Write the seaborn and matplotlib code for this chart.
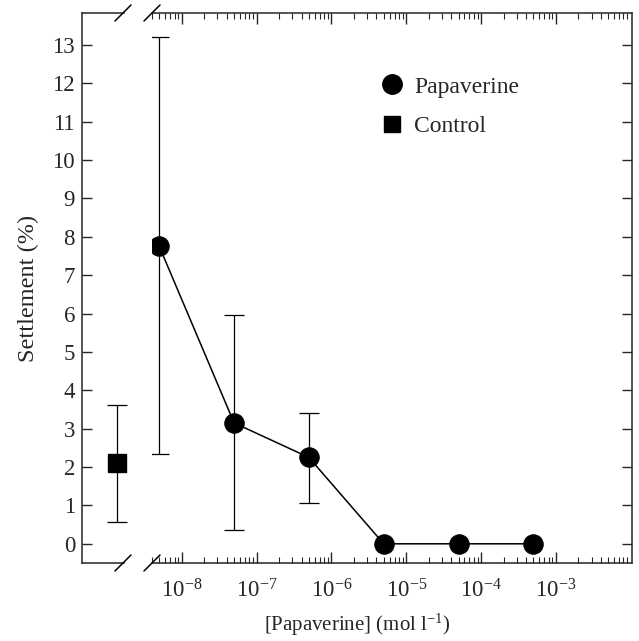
import numpy as np
import pandas as pd
import matplotlib.pyplot as plt
import seaborn as sns
from matplotlib.lines import Line2D
from matplotlib.ticker import LogLocator, LogFormatterMathtext, NullFormatter

# data
conc = [5e-9, 5e-8, 5e-7, 5e-6, 5e-5, 5e-4]
settle = [7.75, 3.15, 2.25, 0.0, 0.0, 0.0]
err_low = [2.35, 0.35, 1.07, 0.0, 0.0, 0.0]
err_high = [13.2, 5.95, 3.42, 0.0, 0.0, 0.0]
ctrl_mean = [2.1]
ctrl_low = [0.58]
ctrl_high = [3.62]
yticks = list(range(0, 14))

sns.set_style('ticks')
plt.rcParams['font.family'] = ['Liberation Serif', 'DejaVu Serif']
plt.rcParams['mathtext.fontset'] = 'custom'
plt.rcParams['mathtext.rm'] = 'Liberation Serif'
plt.rcParams['mathtext.it'] = 'Liberation Serif:italic'
plt.rcParams['mathtext.default'] = 'regular'
FS = 16.5

df = pd.DataFrame({'conc': conc, 'settle': settle})
ctrl = pd.DataFrame({'x': [0.0], 'settle': ctrl_mean})

fig = plt.figure(figsize=(6.39, 6.41), dpi=100)
W, H = 639, 641
bot = 1 - 563 / H
hgt = (563 - 13) / H
ax0 = fig.add_axes([82 / W, bot, 42 / W, hgt])
ax1 = fig.add_axes([152 / W, bot, 480 / W, hgt], sharey=ax0)

ylim = (-0.5, 13.83)

# control (left part of broken axis)
lo = np.array(ctrl_mean) - np.array(ctrl_low)
hi = np.array(ctrl_high) - np.array(ctrl_mean)
ax0.errorbar(ctrl['x'], ctrl['settle'], yerr=[lo, hi], fmt='none', ecolor='black',
             elinewidth=0.9, capsize=7, capthick=0.9, clip_on=False, zorder=2)
sns.scatterplot(data=ctrl, x='x', y='settle', marker='s', s=150, color='black',
                edgecolor='black', ax=ax0, zorder=3, clip_on=False)
ax0.set_xlim(-0.83, 0.17)
ax0.set_ylim(*ylim)
ax0.set_xticks([])
ax0.set_yticks(yticks)
ax0.set_xlabel('')
ax0.set_ylabel('Settlement (%)', fontsize=FS + 1, labelpad=10)
ax0.spines['right'].set_visible(False)
ax0.tick_params(axis='y', direction='in', length=7, width=1, labelsize=FS, pad=5)

# papaverine (log part)
lo = np.array(settle) - np.array(err_low)
hi = np.array(err_high) - np.array(settle)
mask = np.array(err_high) > 0
ax1.errorbar(np.array(conc)[mask], np.array(settle)[mask],
             yerr=[lo[mask], hi[mask]], fmt='none', ecolor='black',
             elinewidth=0.9, capsize=7, capthick=0.9, zorder=2)
sns.lineplot(data=df, x='conc', y='settle', color='black', linewidth=1.1,
             marker='o', markersize=14, markeredgecolor='black', ax=ax1, zorder=3)
ax1.set_xscale('log')
ax1.set_xlim(4e-9, 1.04e-2)
ax1.set_ylim(*ylim)
ax1.set_xlabel('')
ax1.set_ylabel('')
ax1.spines['left'].set_visible(False)
ax1.xaxis.set_minor_locator(LogLocator(base=10, subs=np.arange(2, 10), numticks=20))
ax1.xaxis.set_major_formatter(LogFormatterMathtext())
ax1.xaxis.set_minor_formatter(NullFormatter())
ax1.set_xticks([1e-8, 1e-7, 1e-6, 1e-5, 1e-4, 1e-3])
ax1.tick_params(axis='x', which='major', direction='in', length=8, width=1,
                top=True, labelsize=FS, pad=12)
ax1.tick_params(axis='x', which='minor', direction='in', length=4, width=0.8, top=True)
ax1.tick_params(axis='y', direction='in', length=7, width=1, left=False,
                labelleft=False, right=True)

for ax in (ax0, ax1):
    for s in ax.spines.values():
        s.set_linewidth(1.1)

# break marks
d = 8
for x_px in (123, 152):
    for y_px in (563, 13):
        fig.add_artist(Line2D([(x_px - d) / W, (x_px + d) / W],
                              [1 - (y_px + d) / H, 1 - (y_px - d) / H],
                              color='black', linewidth=1.1))

handles = [Line2D([], [], marker='o', color='black', linestyle='none', markersize=14),
           Line2D([], [], marker='s', color='black', linestyle='none', markersize=11)]
fig.legend(handles, ['Papaverine', 'Control'], loc='upper left',
           bbox_to_anchor=(380 / W, 1 - 76 / H), frameon=False, fontsize=FS + 0.5,
           handlelength=1.0, handletextpad=0.45, labelspacing=0.75,
           borderpad=0, borderaxespad=0)

fig.text(357 / W, 1 - 625 / H, '[Papaverine] (mol l$^{-1}$)', fontsize=FS - 1.5,
         ha='center', va='center')

fig.savefig('out.png', dpi=100)
